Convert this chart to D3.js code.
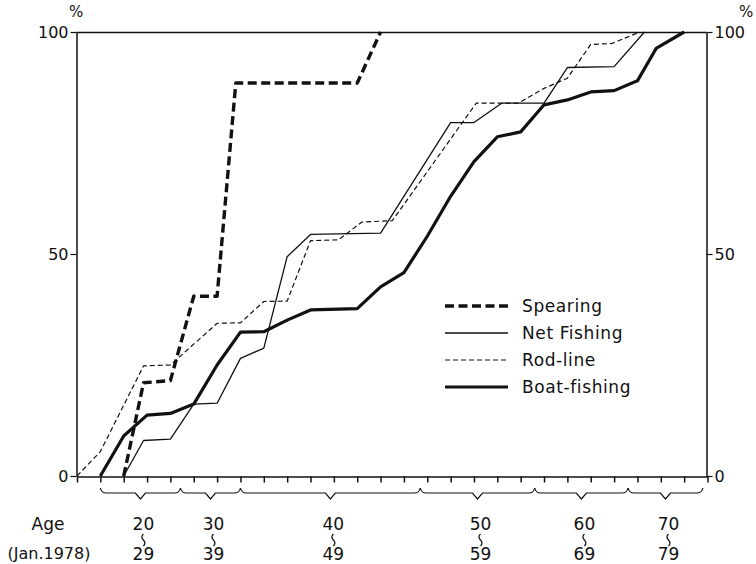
<!DOCTYPE html>
<html>
<head>
<meta charset="utf-8">
<script src="https://cdn.jsdelivr.net/npm/d3@7"></script>
<style>
  body { margin: 0; background: #fff; }
  svg text { font-family: "DejaVu Sans", sans-serif; fill: #111; }
</style>
</head>
<body>
<svg id="chart" width="756" height="564"></svg>
<script>
// x is in axis-tick units (0..27), y is cumulative %
var spearingX = [2, 2.85, 4, 5, 6, 6.8, 12, 13];
var spearingY = [0, 21, 21.5, 40.5, 40.5, 88.5, 88.5, 100];

var netX = [2, 2.85, 4, 5, 6, 7, 8, 9, 10, 13, 16, 17, 18.2, 20, 21, 23, 24.3];
var netY = [0, 8, 8.3, 16.2, 16.4, 26.5, 28.8, 49.4, 54.4, 54.7, 79.6, 79.6, 84, 84, 92, 92.2, 100];

var rodX = [0, 1, 2.85, 4, 6, 7, 8, 9, 10, 11.2, 12.2, 13.5, 17.1, 18.9, 20, 21, 22, 22.9, 24.1];
var rodY = [0, 5.5, 24.8, 25, 34.4, 34.5, 39.3, 39.4, 53, 53.2, 57.2, 57.5, 84, 84, 87.3, 89.6, 97.2, 97.4, 100];

var boatX = [1, 2, 3, 4, 5, 6, 7, 8, 9, 10, 12, 13, 14, 15, 16, 17, 18, 19, 20, 21, 22, 23, 24, 24.8, 26];
var boatY = [0, 9, 13.7, 14.1, 16.2, 25, 32.4, 32.5, 35.1, 37.4, 37.7, 42.6, 45.8, 54, 63, 70.8, 76.4, 77.5, 83.6, 84.7, 86.5, 86.8, 89, 96.3, 100];

var tickCount = 28;
var yTicks = [0, 50, 100];

var groupStart = [1, 4.43, 7, 14.7, 19.6, 23.6];
var groupEnd = [4.43, 7, 14.7, 19.6, 23.6, 26.8];
var groupFrom = ["20", "30", "40", "50", "60", "70"];
var groupTo = ["29", "39", "49", "59", "69", "79"];

var seriesNames = ["Spearing", "Net Fishing", "Rod-line", "Boat-fishing"];

var series = [
    {name: seriesNames[0], x: spearingX, y: spearingY, width: 3.4, dash: "9,4.5"},
    {name: seriesNames[1], x: netX, y: netY, width: 1.3, dash: null},
    {name: seriesNames[2], x: rodX, y: rodY, width: 1.2, dash: "5,3"},
    {name: seriesNames[3], x: boatX, y: boatY, width: 3.2, dash: null}
];

var vis = d3.select("#chart");

var LEFT = 76.5, RIGHT = 706.5, TOP = 32, BOTTOM = 476;

var xScale = d3.scaleLinear().domain([0, 27]).range([77, 707.5]);
var yScale = d3.scaleLinear().domain([0, 100]).range([BOTTOM, TOP]);

// frame: top line
vis.append("line")
    .attr("x1", LEFT).attr("x2", RIGHT)
    .attr("y1", TOP + 0.5).attr("y2", TOP + 0.5)
    .attr("stroke", "#111").attr("stroke-width", 1.5);

var xAxis = d3.axisBottom(xScale)
    .tickValues(d3.range(0, tickCount))
    .tickSize(6).tickSizeOuter(0)
    .tickFormat("");

vis.append("g")
    .attr("transform", "translate(0," + (BOTTOM + 0.5) + ")")
    .call(xAxis)
    .call(function(g) { g.selectAll("line, path").attr("stroke", "#111").attr("stroke-width", 1.5); });

var styleY = function(g) {
    g.select(".domain").attr("stroke", "#111").attr("stroke-width", 1.5);
    g.selectAll("line").attr("stroke", "#111").attr("stroke-width", 1.2);
    g.selectAll("text")
        .attr("font-family", "DejaVu Sans, sans-serif")
        .attr("font-size", 16)
        .attr("fill", "#111");
};

vis.append("g")
    .attr("transform", "translate(" + LEFT + ",0)")
    .call(d3.axisLeft(yScale).tickValues(yTicks).tickSize(6).tickSizeOuter(0).tickPadding(2))
    .call(styleY);

vis.append("g")
    .attr("transform", "translate(" + RIGHT + ",0)")
    .call(d3.axisRight(yScale).tickValues(yTicks).tickSize(6).tickSizeOuter(0).tickPadding(2))
    .call(styleY);

vis.append("text").attr("x", 69).attr("y", 17).attr("font-size", 15).text("%");
vis.append("text").attr("x", 739).attr("y", 17).attr("font-size", 15).text("%");

// data lines
var lineGen = d3.line()
    .x(function(d) { return xScale(d[0]); })
    .y(function(d) { return yScale(d[1]); });

series.forEach(function(s) {
    var pts = s.x.map(function(v, i) { return [v, s.y[i]]; });
    vis.append("path")
        .attr("d", lineGen(pts))
        .attr("fill", "none")
        .attr("stroke", "#111")
        .attr("stroke-width", s.width)
        .attr("stroke-dasharray", s.dash)
        .attr("stroke-linejoin", "round");
});

// legend
var legend = vis.append("g");
series.forEach(function(s, i) {
    var ly = 306 + i * 27;
    legend.append("line")
        .attr("x1", 445).attr("x2", 508)
        .attr("y1", ly).attr("y2", ly)
        .attr("stroke", "#111")
        .attr("stroke-width", s.width)
        .attr("stroke-dasharray", s.dash);
    legend.append("text")
        .attr("x", 522).attr("y", ly + 6)
        .attr("font-size", 17)
        .attr("letter-spacing", 0.6)
        .text(s.name);
});

// age group braces
var braceY = 488;
groupStart.forEach(function(g0, i) {
    var a = xScale(g0), b = xScale(groupEnd[i]), m = (a + b) / 2;
    var p = d3.path();
    p.moveTo(a, braceY);
    p.quadraticCurveTo(a + 1, braceY + 5, a + 6, braceY + 5);
    p.lineTo(m - 5, braceY + 5);
    p.lineTo(m, braceY + 11);
    p.lineTo(m + 5, braceY + 5);
    p.lineTo(b - 6, braceY + 5);
    p.quadraticCurveTo(b - 1, braceY + 5, b, braceY);
    vis.append("path")
        .attr("d", p.toString())
        .attr("fill", "none")
        .attr("stroke", "#111")
        .attr("stroke-width", 1.2);

    var cx = m + 3;
    vis.append("text")
        .attr("x", cx).attr("y", 530)
        .attr("text-anchor", "middle")
        .attr("font-size", 17)
        .text(groupFrom[i]);
    vis.append("path")
        .attr("d", "M" + cx + ",534 q-3,3 0,6 q3,3 0,6")
        .attr("fill", "none")
        .attr("stroke", "#111")
        .attr("stroke-width", 1.2);
    vis.append("text")
        .attr("x", cx).attr("y", 560)
        .attr("text-anchor", "middle")
        .attr("font-size", 17)
        .text(groupTo[i]);
});

vis.append("text")
    .attr("x", 48).attr("y", 530)
    .attr("text-anchor", "middle")
    .attr("font-size", 17)
    .text("Age");
vis.append("text")
    .attr("x", 49).attr("y", 559)
    .attr("text-anchor", "middle")
    .attr("font-size", 16)
    .text("(Jan.1978)");
</script>
</body>
</html>
